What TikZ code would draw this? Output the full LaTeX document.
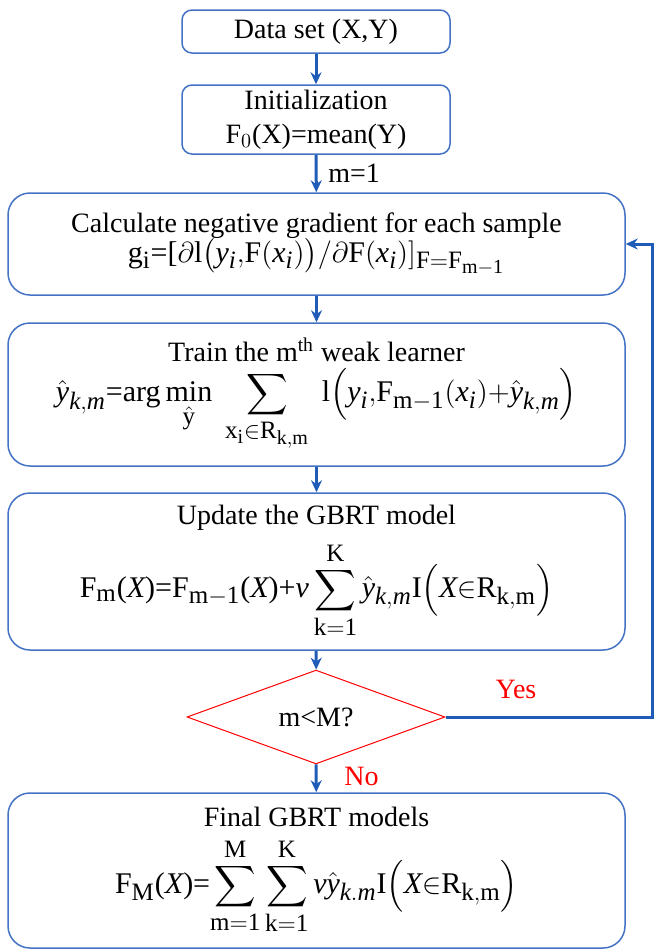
\documentclass[tikz,border=0pt]{standalone}
\usepackage{amsmath}
\usepackage{fontspec}
\setmainfont{Liberation Serif}
\usetikzlibrary{positioning,shapes.geometric,arrows.meta}
\DeclareMathSizes{15}{15}{12.5}{10}
\definecolor{frame}    {HTML}{4472C4}
\definecolor{flowblue} {HTML}{1F5CB8}
\definecolor{alarm}    {HTML}{FF0000}
\newcommand{\fml}{\fontsize{15}{18}\selectfont}
\tikzset{
  every node/.style={font=\fontsize{14}{17}\selectfont},
  % --- nodes
  box/.style    = {rounded corners=11pt, draw=frame, line width=0.75pt, fill=white,
                   align=center, inner sep=2pt},
  smallbox/.style = {box, rounded corners=5pt, minimum width=134pt},
  wide/.style   = {box, minimum width=308.5pt},
  test/.style   = {diamond, draw=alarm, line width=0.5pt, minimum width=129pt,
                   minimum height=38pt, inner sep=0pt},
  yn/.style     = {text=alarm},
  % --- edges
  flow/.style   = {-{Stealth[length=6pt,width=5.5pt]}, line width=1.5pt, draw=flowblue},
}

\begin{document}
\begin{tikzpicture}[x=0.5pt,y=-0.5pt]
  \useasboundingbox (0,0) rectangle (654,949);

  \node[smallbox, minimum height=21.5pt] (data) at (316,31.5) {Data set (X,Y)};
  \node[smallbox, minimum height=34.5pt] (init) at (316,119.5)
    {Initialization\\ F$_{0}$(X)=mean(Y)};

  \node[wide, minimum height=51pt] (grad) at (316.5,244)
    {Calculate negative gradient for each sample\\[-2pt]
     {\fml$\mathrm{g_i}$=[$\partial$l$\bigl(\mathit{y_i}{,}\mathrm{F}(\mathit{x_i})\bigr)/\partial\mathrm{F}(\mathit{x_i})]_{\mathrm{F=F}_{\mathrm{m-1}}}$}};

  \node[wide, minimum height=71.5pt] (train) at (316.5,394.5)
    {Train the m\textsuperscript{th} weak learner\\[3pt]
     {\fml$\hat{\mathit{y}}_{\mathit{k,m}}$=arg\,$\displaystyle\mathop{\mathrm{min}}\limits_{\hat{\mathrm{y}}}\;
      \sum_{\mathrm{x_i\in R_{k,m}}}\;\mathrm{l}\Bigl(\mathit{y_i}{,}\mathrm{F_{m-1}}(\mathit{x_i}){+}\hat{\mathit{y}}_{\mathit{k,m}}\Bigr)$}};

  \node[wide, minimum height=78.5pt] (update) at (316.5,571.5)
    {Update the GBRT model\\[5pt]
     {\fml F$_{\mathrm{m}}$($\mathit{X}$)=F$_{\mathrm{m-1}}$($\mathit{X}$)+$\displaystyle\mathit{v}\sum_{\mathrm{k=1}}^{\mathrm{K}}
      \hat{\mathit{y}}_{\mathit{k,m}}\mathrm{I}\Bigl(\mathit{X}{\in}\mathrm{R_{k,m}}\Bigr)$}};

  \node[test] (check) at (316,717) {m<M?};

  \node[wide, minimum height=77.5pt] (final) at (316.5,870.5)
    {Final GBRT models\\[5pt]
     {\fml F$_{\mathrm{M}}$($\mathit{X}$)=$\displaystyle\sum_{\mathrm{m=1}}^{\mathrm{M}}\sum_{\mathrm{k=1}}^{\mathrm{K}}
      \mathit{v}\hat{\mathit{y}}_{\mathit{k.m}}\mathrm{I}\Bigl(\mathit{X}{\in}\mathrm{R_{k,m}}\Bigr)$}};

  \coordinate (rail) at (652,717);

  \draw[flow] (data) -- (init);
  \draw[flow] (init) -- node[right=2pt] {m=1} (grad);
  \draw[flow] (grad) -- (train);
  \draw[flow] (train) -- (update);
  \draw[flow] (update) -- (check);
  \draw[flow] (check) -- node[yn, right=10pt, pos=0.45] {No} (final);
  \draw[flow] (check.east) -- (rail) |- (grad.east);
  \node[yn] (yes) at (516,689) {Yes};
\end{tikzpicture}
\end{document}
